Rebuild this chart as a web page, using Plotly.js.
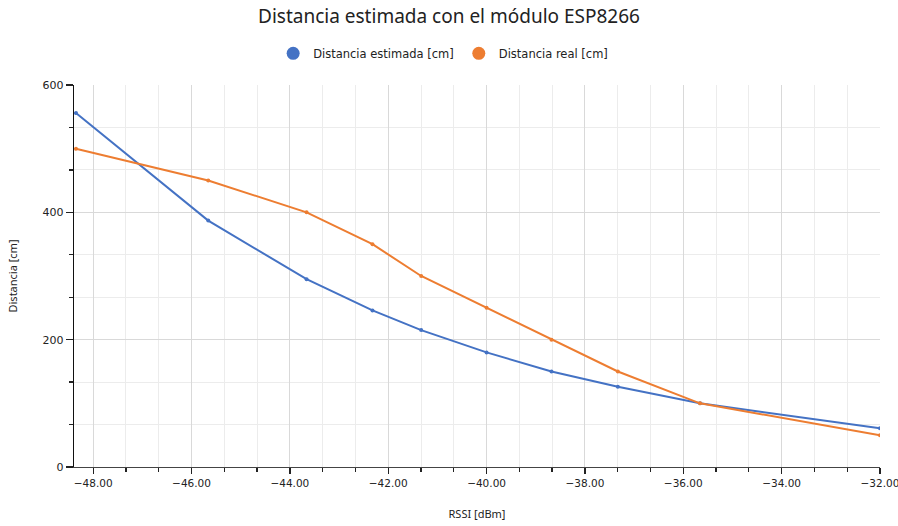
<!DOCTYPE html>
<html>
<head>
<meta charset="utf-8">
<script src="https://cdn.plot.ly/plotly-3.0.1.min.js"></script>
<style>html,body{margin:0;padding:0;background:#fff;}#chart{width:898px;height:526px;}</style>
</head>
<body>
<div id="chart"></div>
<script>
const rssi = [-48.35, -45.66, -43.66, -42.32, -41.33, -40.0, -38.68, -37.33, -35.66, -32.0];
const distEstimada = [556, 387, 295, 246, 215, 180, 150, 126, 100, 61];
const distReal = [500, 450, 400, 350, 300, 250, 200, 150, 100, 50];
const seriesNames = ['Distancia estimada [cm]', 'Distancia real [cm]'];
const colors = ['#4472C4', '#ED7D31'];

const traces = [
  {x: rssi, y: distEstimada, name: seriesNames[0], mode: 'lines+markers', showlegend: false,
   line: {color: colors[0], width: 2}, marker: {color: colors[0], size: 4}},
  {x: rssi, y: distReal, name: seriesNames[1], mode: 'lines+markers', showlegend: false,
   line: {color: colors[1], width: 2}, marker: {color: colors[1], size: 4}},
  {x: [null], y: [null], name: seriesNames[0], mode: 'markers', showlegend: true,
   marker: {color: colors[0], size: 13}},
  {x: [null], y: [null], name: seriesNames[1], mode: 'markers', showlegend: true,
   marker: {color: colors[1], size: 13}}
];

const layout = {
  width: 898, height: 526,
  margin: {l: 74, r: 18, t: 85, b: 59},
  paper_bgcolor: '#fff', plot_bgcolor: '#fff',
  font: {family: 'DejaVu Sans, sans-serif', size: 11, color: '#222'},
  title: {text: 'Distancia estimada con el módulo ESP8266', x: 0.5, xanchor: 'center', y: 0.968, yanchor: 'middle',
          font: {family: 'Noto Sans, sans-serif', size: 19, color: '#222'}},
  showlegend: true,
  legend: {orientation: 'h', x: 0.458, xanchor: 'center', y: 1.083, yanchor: 'middle',
           font: {family: 'DejaVu Sans, sans-serif', size: 11.5, color: '#222'}, itemwidth: 30},
  xaxis: {
    range: [-48.39, -31.999], tickmode: 'linear', tick0: -48, dtick: 2, tickformat: '.2f',
    ticklabeloverflow: 'allow',
    showgrid: true, gridcolor: '#d9d9d9', gridwidth: 1,
    showline: true, linecolor: '#444', linewidth: 1.3,
    ticks: 'outside', ticklen: 6, tickcolor: '#222', tickwidth: 1.3,
    tickfont: {size: 10.5, color: '#222'},
    minor: {dtick: 2/3, tick0: -48, showgrid: true, gridcolor: '#ececec', ticks: 'outside', ticklen: 4, tickcolor: '#222'},
    zeroline: false,
    title: {text: 'RSSI [dBm]', font: {family: 'Noto Sans, sans-serif', size: 11, color: '#222'}, standoff: 22}
  },
  yaxis: {
    range: [0, 600], tickmode: 'linear', tick0: 0, dtick: 200,
    showgrid: true, gridcolor: '#d9d9d9', gridwidth: 1,
    showline: true, linecolor: '#111', linewidth: 1.3,
    ticks: 'outside', ticklen: 7, tickcolor: '#222', tickwidth: 1.3,
    tickfont: {size: 11, color: '#222'},
    minor: {dtick: 200/3, tick0: 0, showgrid: true, gridcolor: '#ececec', ticks: 'outside', ticklen: 4, tickcolor: '#222'},
    zeroline: false,
    title: {text: 'Distancia [cm]', font: {family: 'Noto Sans, sans-serif', size: 11, color: '#222'}, standoff: 22}
  }
};

Plotly.newPlot('chart', traces, layout, {displayModeBar: false, staticPlot: true});
</script>
</body>
</html>
